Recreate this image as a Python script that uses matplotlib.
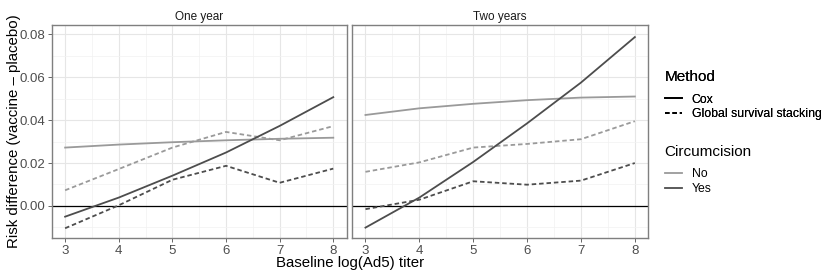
import matplotlib
matplotlib.use("Agg")
import matplotlib.pyplot as plt
from matplotlib.lines import Line2D

plt.rcParams['font.family'] = ['Liberation Sans', 'DejaVu Sans']

# baseline log(Ad5) titer
titer = [3, 4, 5, 6, 7, 8]
panels = ["One year", "Two years"]

# one year
one_no_cox = [0.0272, 0.0286, 0.0297, 0.0306, 0.0313, 0.0318]
one_no_gss = [0.0073, 0.0172, 0.0272, 0.0345, 0.0306, 0.0372]
one_yes_cox = [-0.0050, 0.0039, 0.0141, 0.0249, 0.0373, 0.0507]
one_yes_gss = [-0.0104, 0.0003, 0.0122, 0.0187, 0.0108, 0.0174]

# two years
two_no_cox = [0.0424, 0.0455, 0.0476, 0.0493, 0.0505, 0.0510]
two_no_gss = [0.0159, 0.0203, 0.0272, 0.0289, 0.0311, 0.0395]
two_yes_cox = [-0.0101, 0.0039, 0.0205, 0.0385, 0.0575, 0.0787]
two_yes_gss = [-0.0015, 0.0029, 0.0115, 0.0099, 0.0118, 0.0200]

col_no = "#9a9a9a"
col_yes = "#4d4d4d"
lw = 1.3
dash = (0, (2.5, 1.6))

fig = plt.figure(figsize=(8.3, 2.77), dpi=100)
ax1 = fig.add_axes([0.0623, 0.1419, 0.3554, 0.7668])
ax2 = fig.add_axes([0.4241, 0.1419, 0.3570, 0.7668])

data = [
    (one_no_cox, one_no_gss, one_yes_cox, one_yes_gss),
    (two_no_cox, two_no_gss, two_yes_cox, two_yes_gss),
]

for ax, title, (nc, ng, yc, yg) in zip([ax1, ax2], panels, data):
    ax.axhline(0, color="black", lw=0.9, zorder=2)
    ax.plot(titer, nc, color=col_no, lw=lw, zorder=3)
    ax.plot(titer, ng, color=col_no, lw=lw, linestyle=dash, zorder=3)
    ax.plot(titer, yc, color=col_yes, lw=lw, zorder=4)
    ax.plot(titer, yg, color=col_yes, lw=lw, linestyle=dash, zorder=4)

    ax.set_xlim(2.75, 8.25)
    ax.set_ylim(-0.0148, 0.0842)
    ax.set_xticks([3, 4, 5, 6, 7, 8])
    ax.set_xticks([3.5, 4.5, 5.5, 6.5, 7.5], minor=True)
    ax.set_yticks([0.0, 0.02, 0.04, 0.06, 0.08])
    ax.set_yticks([-0.01, 0.01, 0.03, 0.05, 0.07], minor=True)
    ax.grid(which="major", color="#e6e6e6", lw=0.8, zorder=0)
    ax.grid(which="minor", color="#f2f2f2", lw=0.5, zorder=0)
    ax.set_axisbelow(True)
    for s in ax.spines.values():
        s.set_color("#7f7f7f")
        s.set_linewidth(1.0)
    ax.tick_params(which="major", length=3, width=0.6, color="#4d4d4d",
                   labelsize=9.5, labelcolor="#4d4d4d", pad=2)
    ax.tick_params(which="minor", length=0)
    ax.set_title(title, fontsize=8.5, color="#1a1a1a", pad=4)

ax1.set_yticklabels(["0.00", "0.02", "0.04", "0.06", "0.08"])
ax2.tick_params(axis="y", labelleft=False, length=0)
fig.text(0.017, 0.525, "Risk difference (vaccine \u2013 placebo)", fontsize=10.8,
         rotation=90, ha="center", va="center")
fig.text(0.4217, 0.025, "Baseline log(Ad5) titer", fontsize=10.8, ha="center", va="bottom")

# legends
method_handles = [
    Line2D([], [], color="black", lw=lw),
    Line2D([], [], color="black", lw=lw, linestyle=dash),
]
circ_handles = [
    Line2D([], [], color=col_no, lw=lw),
    Line2D([], [], color=col_yes, lw=lw),
]
leg1 = fig.legend(method_handles, ["Cox", "Global survival stacking"], title="Method",
                  loc="upper left", bbox_to_anchor=(0.795, 0.765), frameon=False,
                  fontsize=8.8, title_fontproperties={"size": 11, "weight": "normal"},
                  handlelength=1.4, handletextpad=0.8,
                  labelspacing=0.2, borderaxespad=0)
leg1._legend_box.align = "left"
leg1._legend_box.sep = 7
leg2 = fig.legend(circ_handles, ["No", "Yes"], title="Circumcision",
                  loc="upper left", bbox_to_anchor=(0.795, 0.495), frameon=False,
                  fontsize=8.8, title_fontproperties={"size": 11, "weight": "normal"},
                  handlelength=1.4, handletextpad=0.8,
                  labelspacing=0.2, borderaxespad=0)
leg2._legend_box.align = "left"
leg2._legend_box.sep = 7
fig.add_artist(leg1)

fig.savefig("out.png", dpi=100)
